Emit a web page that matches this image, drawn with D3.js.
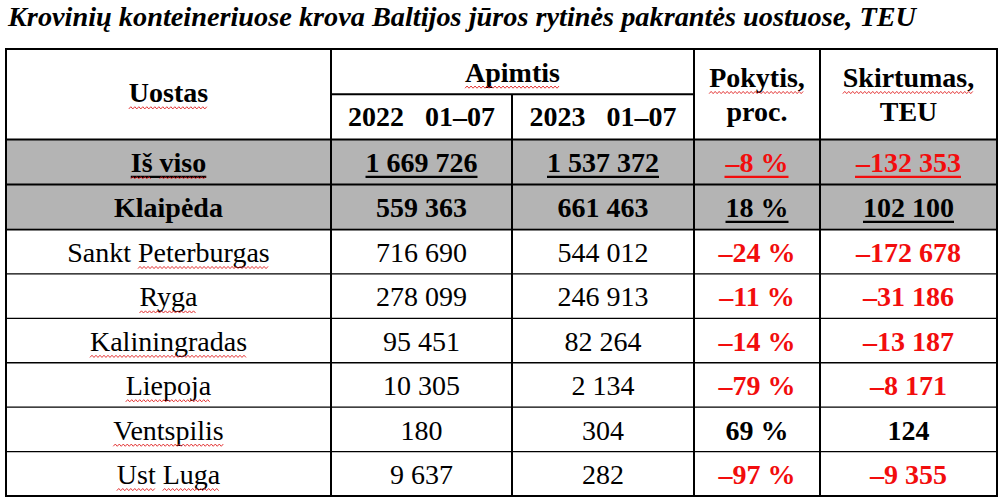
<!DOCTYPE html>
<html>
<head>
<meta charset="utf-8">
<script src="https://cdn.jsdelivr.net/npm/d3@7"></script>
<style>
  body { margin: 0; background: #fff; }
  svg text { font-family: "Liberation Serif", "Times New Roman", serif; white-space: pre; }
</style>
</head>
<body>
<svg id="chart" width="1004" height="501"></svg>
<script>
var title = "Krovinių konteineriuose krova Baltijos jūros rytinės pakrantės uostuose, TEU";

// ports below the two summary rows
var ports = ["Sankt Peterburgas", "Ryga", "Kaliningradas", "Liepoja", "Ventspilis", "Ust Luga"];
var vol2022 = [716690, 278099, 95451, 10305, 180, 9637];
var vol2023 = [544012, 246913, 82264, 2134, 304, 282];
var changePct = [-24, -11, -14, -79, 69, -97];
var diffTeu = [-172678, -31186, -13187, -8171, 124, -9355];

// summary rows
var sumNames = ["Iš viso", "Klaipėda"];
var sum2022 = [1669726, 559363];
var sum2023 = [1537372, 661463];
var sumPct = [-8, 18];
var sumDiff = [-132353, 102100];

var colHeads = ["Uostas", "Apimtis", "Pokytis,|proc.", "Skirtumas,|TEU"];
var periodHeads = ["2022   01–07", "2023   01–07"];

// words the spell checker marked
var spellMarked = ["Uostas", "Apimtis", "Pokytis,", "Skirtumas,", "Iš", "viso",
  "Peterburgas", "Ryga", "Kaliningradas", "Liepoja", "Ventspilis", "Ust", "Luga"];

var red = "#f20d0d", gray = "#b4b4b4";
var fs = 28;

var loc = d3.formatLocale({ decimal: ",", thousands: " ", grouping: [3], currency: ["", ""], minus: "–" });
var fmt = loc.format(",d");
function pct(v) { return fmt(v) + " %"; }

var svg = d3.select("#chart");

// x - column edges, y - row lines (0..2 header, 2..4 summary, 4..10 ports)
var x = d3.scaleOrdinal().domain([0, 1, 2, 3, 4, 5]).range([6, 331, 512, 694, 820, 997]);
var y = d3.scaleLinear().domain([0, 2, 4, 10]).range([49, 139.5, 229.5, 496]);
function cx(c) { return (x(c) + x(c + 1)) / 2; }

svg.append("text")
    .attr("x", 8).attr("y", 26)
    .attr("font-size", 28.3).attr("font-weight", "bold").attr("font-style", "italic")
    .text(title);

// grey summary rows
svg.append("rect")
    .attr("x", x(0)).attr("y", y(2))
    .attr("width", x(5) - x(0)).attr("height", y(4) - y(2) - 1.5)
    .attr("fill", gray);

var grid = svg.append("g").attr("stroke", "#000");

// horizontal lines
[0, 2, 3, 4].forEach(function(r) {
  grid.append("line").attr("x1", x(0)).attr("x2", x(5))
      .attr("y1", y(r)).attr("y2", y(r)).attr("stroke-width", 2);
});
grid.append("line").attr("x1", x(1)).attr("x2", x(3))
    .attr("y1", y(1)).attr("y2", y(1)).attr("stroke-width", 2);
d3.range(5, 10).forEach(function(r) {
  grid.append("line").attr("x1", x(0)).attr("x2", x(5))
      .attr("y1", y(r)).attr("y2", y(r)).attr("stroke-width", 1.3);
});
grid.append("line").attr("x1", x(0)).attr("x2", x(5))
    .attr("y1", y(10)).attr("y2", y(10)).attr("stroke-width", 2);

// vertical lines
[0, 1, 3, 4, 5].forEach(function(c) {
  grid.append("line").attr("x1", x(c)).attr("x2", x(c))
      .attr("y1", y(0) - 1).attr("y2", y(10) + 1).attr("stroke-width", 2);
});
grid.append("line").attr("x1", x(2)).attr("x2", x(2))
    .attr("y1", y(1)).attr("y2", y(10)).attr("stroke-width", 2);

var texts = svg.append("g").attr("text-anchor", "middle").attr("font-size", fs);

function cell(col, row, str, opt) {
  opt = opt || {};
  var mid = (y(row) + y(row + 1)) / 2;
  var t = texts.append("text")
      .attr("x", opt.span ? (x(col) + x(col + opt.span)) / 2 : cx(col))
      .attr("y", mid + (opt.dy || 10.3))
      .attr("font-weight", opt.bold ? "bold" : null)
      .attr("fill", opt.color || "#000")
      .text(str);
  if (opt.underline) {
    var bb = t.node().getBBox();
    var ty = +t.attr("y") + 4.5;
    texts.append("line")
        .attr("x1", bb.x).attr("x2", bb.x + bb.width)
        .attr("y1", ty).attr("y2", ty)
        .attr("stroke", opt.color || "#000").attr("stroke-width", 2.2);
  }
  return t;
}

// header
cell(0, 0, colHeads[0], { bold: true, span: 1, dy: 30.7 });
cell(1, 0, colHeads[1], { bold: true, span: 2, dy: 10 });
periodHeads.forEach(function(p, i) { cell(1 + i, 1, p, { bold: true, dy: 9.3 }); });
[2, 3].forEach(function(c) {
  var parts = colHeads[c].split("|");
  cell(c + 1, 0, parts[0], { bold: true, dy: 15.4 });
  cell(c + 1, 1, parts[1], { bold: true, dy: 4.3 });
});

// summary rows
sumNames.forEach(function(n, i) {
  var r = 2 + i, ul = i === 0;
  cell(0, r, n, { bold: true, underline: ul });
  cell(1, r, fmt(sum2022[i]), { bold: true, underline: ul });
  cell(2, r, fmt(sum2023[i]), { bold: true, underline: ul });
  cell(3, r, pct(sumPct[i]), { bold: true, underline: true, color: sumPct[i] < 0 ? red : "#000" });
  cell(4, r, fmt(sumDiff[i]), { bold: true, underline: true, color: sumDiff[i] < 0 ? red : "#000" });
});

// port rows
ports.forEach(function(p, i) {
  var r = 4 + i;
  cell(0, r, p);
  cell(1, r, fmt(vol2022[i]));
  cell(2, r, fmt(vol2023[i]));
  cell(3, r, pct(changePct[i]), { bold: true, color: changePct[i] < 0 ? red : "#000" });
  cell(4, r, fmt(diffTeu[i]), { bold: true, color: diffTeu[i] < 0 ? red : "#000" });
});

// wavy spell-check marks under flagged words
texts.selectAll("text").each(function() {
  var node = this, s = node.textContent, idx = 0;
  s.split(" ").forEach(function(w) {
    if (w && spellMarked.indexOf(w) >= 0) {
      var x0 = node.getStartPositionOfChar(idx).x;
      var x1 = node.getEndPositionOfChar(idx + w.length - 1).x;
      var base = +node.getAttribute("y") + 5.5;
      var pts = [];
      for (var xx = x0; xx <= x1; xx += 2) {
        pts.push([xx, base + ((Math.round((xx - x0) / 2) % 2) ? -1.1 : 1.1)]);
      }
      svg.append("path")
          .attr("d", d3.line()(pts))
          .attr("fill", "none").attr("stroke", "#e02020").attr("stroke-width", 0.9);
    }
    idx += w.length + 1;
  });
});
</script>
</body>
</html>
